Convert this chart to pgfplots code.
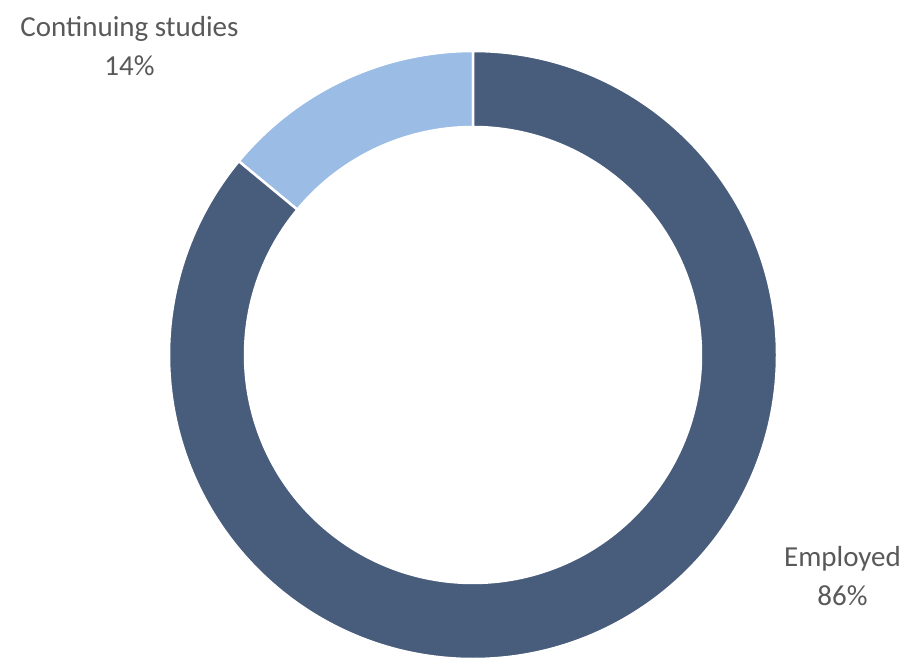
\documentclass[border=0pt]{standalone}
\usepackage{pgfplots}
\usepackage{pgfplotstable}
\usepackage{fontspec}
\setmainfont{Carlito}
\pgfplotsset{compat=1.18}
\definecolor{darkslice}{HTML}{485C7C}
\definecolor{lightslice}{HTML}{9BBCE4}
\definecolor{txt}{HTML}{595959}
\pgfplotstableread{
label value
Employed 86
Continuing 14
}\donutdata
\begin{document}
\begin{tikzpicture}[x=1pt,y=1pt]
\pgfplotstablegetelem{0}{value}\of\donutdata \let\vEmp\pgfplotsretval
\pgfplotstablegetelem{1}{value}\of\donutdata \let\vCont\pgfplotsretval
\pgfmathsetmacro{\aCont}{90+3.6*\vCont}
\pgfmathsetmacro{\aEmp}{90-3.6*\vEmp}
\begin{axis}[anchor=south west, at={(0pt,0pt)}, scale only axis,
  width=908pt, height=657pt, xmin=0, xmax=908, ymin=0, ymax=657,
  hide axis, clip=true]
  \begin{scope}[shift={(axis cs:473,302)}]
    \fill[lightslice, draw=white, line width=2.5pt]
      (90:304pt) arc[start angle=90, end angle=\aCont, radius=304pt]
      -- (\aCont:228pt) arc[start angle=\aCont, end angle=90, radius=228pt] -- cycle;
    \fill[darkslice, draw=white, line width=2.5pt]
      (90:304pt) arc[start angle=90, end angle=\aEmp, radius=304pt]
      -- (\aEmp:228pt) arc[start angle=\aEmp, end angle=90, radius=228pt] -- cycle;
  \end{scope}
  \node[anchor=base, text=txt, font=\fontsize{29}{35}\selectfont, inner sep=0pt] at (axis cs:129.5,620) {Continuing studies};
  \node[anchor=base, text=txt, font=\fontsize{29}{35}\selectfont, inner sep=0pt] at (axis cs:129.5,581) {\vCont\%};
  \node[anchor=base, text=txt, font=\fontsize{29}{35}\selectfont, inner sep=0pt] at (axis cs:842.5,91) {Employed};
  \node[anchor=base, text=txt, font=\fontsize{29}{35}\selectfont, inner sep=0pt] at (axis cs:842.5,52) {\vEmp\%};
\end{axis}
\pgfresetboundingbox
\path (0pt,0pt) rectangle (908pt,657pt);
\end{tikzpicture}
\end{document}
